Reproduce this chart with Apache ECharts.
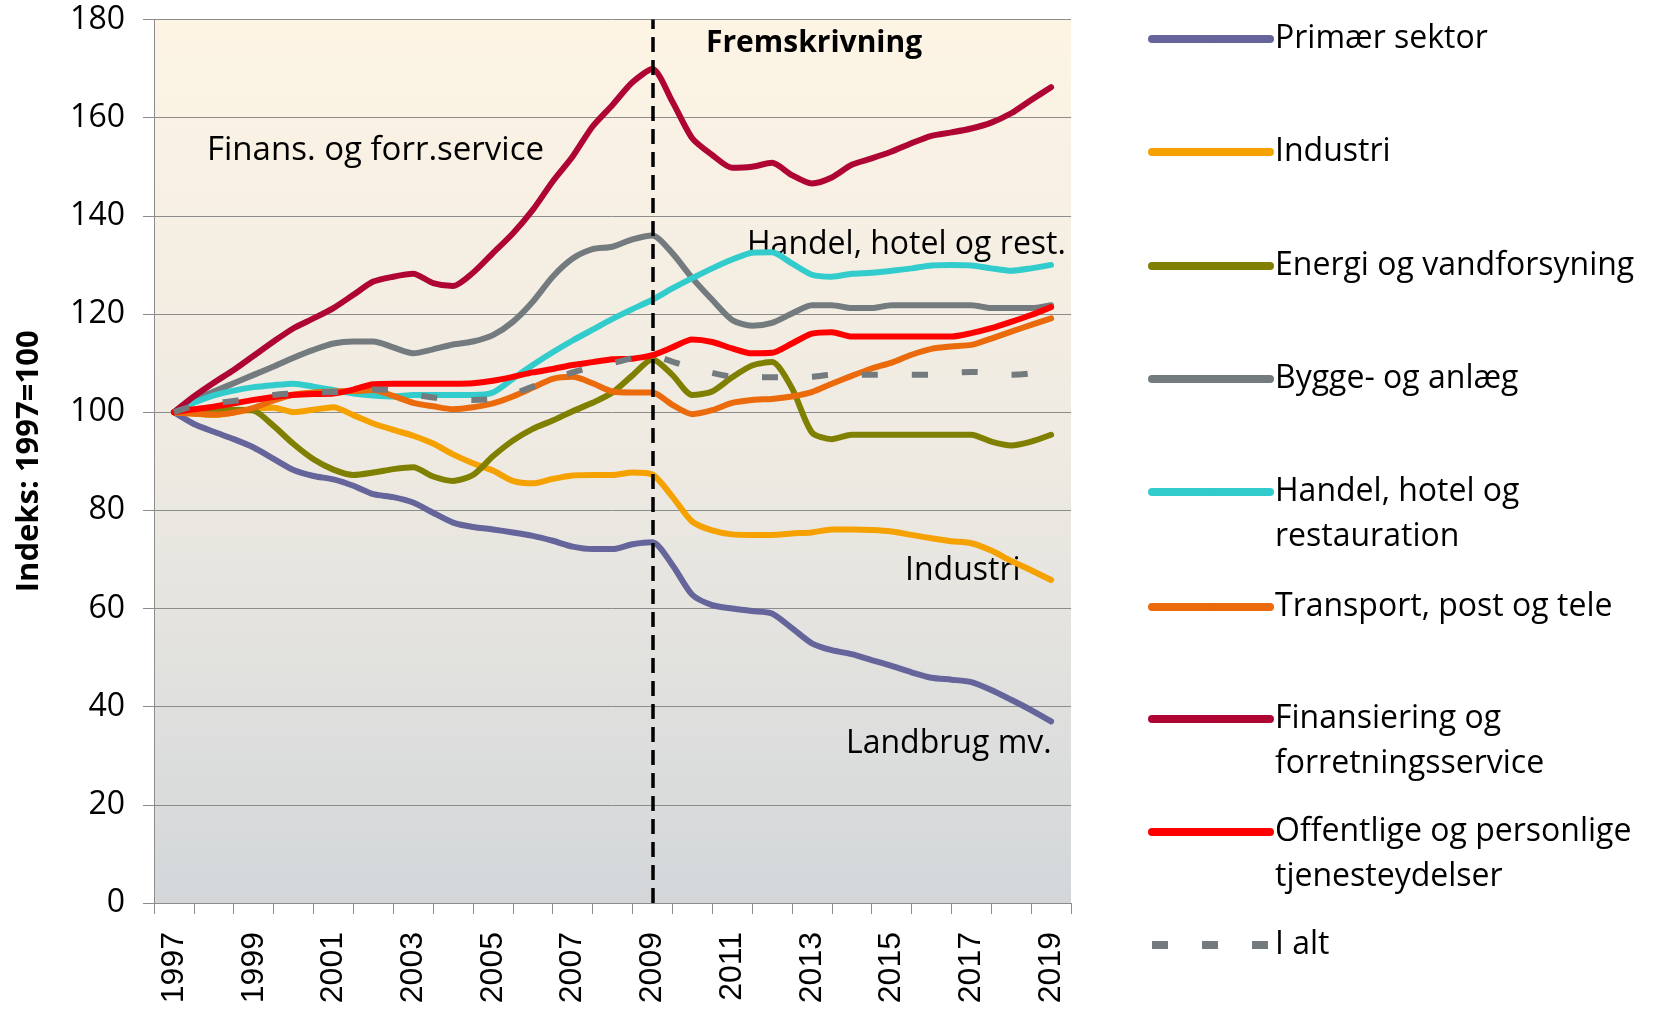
<!DOCTYPE html>
<html>
<head>
<meta charset="utf-8">
<title>Indeks: 1997=100</title>
<script src="https://cdn.jsdelivr.net/npm/echarts@6/dist/echarts.min.js"></script>
<style>
    html, body { margin: 0; padding: 0; background: #fff; }
    #chart { width: 1654px; height: 1013px; }
</style>
</head>
<body>
<div id="chart"></div>
<script>
// aarstal paa x-aksen (kategorier)
var aarstal = ['1997','1998','1999','2000','2001','2002','2003','2004','2005','2006','2007','2008',
               '2009','2010','2011','2012','2013','2014','2015','2016','2017','2018','2019'];

// halvaarlige maalepunkter 1997 - 2019
var tider = [];
for (var i = 0; i < 45; i++) { tider.push(1997 + i / 2); }

// indeks 1997=100, et tal pr. halvaar
var primaer = [100, 97.6, 96.0, 94.5, 92.8, 90.5, 88.2, 87.0, 86.3, 85.0,
               83.3, 82.7, 81.6, 79.5, 77.5, 76.6, 76.1, 75.5, 74.8, 73.8,
               72.6, 72.1, 72.1, 73.1, 73.5, 68.9, 62.8, 60.7, 60.0, 59.5,
               59.0, 56.0, 52.9, 51.5, 50.7, 49.5, 48.3, 47.0, 45.9, 45.5,
               45.0, 43.4, 41.4, 39.3, 37.0];
var industri = [100, 99.7, 99.4, 99.9, 100.6, 100.9, 100.0, 100.5, 101.0, 99.4,
                97.7, 96.4, 95.2, 93.6, 91.4, 89.6, 88.1, 86.0, 85.5, 86.4,
                87.1, 87.2, 87.2, 87.7, 87.3, 82.8, 77.7, 75.9, 75.1, 75.0,
                75.0, 75.3, 75.5, 76.1, 76.1, 76.0, 75.7, 75.0, 74.3, 73.7,
                73.3, 71.8, 69.7, 67.8, 65.8];
var energi = [100, 100.1, 100.3, 100.5, 100.3, 97.2, 93.5, 90.4, 88.3, 87.2,
              87.7, 88.4, 88.8, 86.9, 86.0, 87.2, 91.0, 94.2, 96.6, 98.3,
              100.2, 101.9, 104.0, 107.5, 110.8, 107.6, 103.5, 104.2, 107.1, 109.5,
              110.2, 104.9, 95.9, 94.5, 95.4, 95.4, 95.4, 95.4, 95.4, 95.4,
              95.4, 94.0, 93.2, 94.0, 95.4];
var bygge = [100, 102.5, 104.2, 105.9, 107.6, 109.3, 111.1, 112.7, 114.0, 114.4,
             114.4, 113.2, 112.0, 112.8, 113.8, 114.4, 115.7, 118.4, 122.5, 127.6,
             131.3, 133.2, 133.7, 135.2, 136.0, 132.4, 127.3, 122.9, 118.8, 117.6,
             118.2, 120.1, 121.8, 121.8, 121.2, 121.2, 121.8, 121.8, 121.8, 121.8,
             121.8, 121.2, 121.2, 121.2, 121.8];
var handel = [100, 101.9, 103.4, 104.4, 105.1, 105.5, 105.8, 105.2, 104.5, 103.8,
              103.4, 103.2, 103.5, 103.5, 103.5, 103.5, 104.0, 106.8, 109.6, 112.2,
              114.6, 116.8, 119.0, 121.0, 122.9, 125.2, 127.3, 129.3, 131.1, 132.5,
              132.6, 130.3, 128.0, 127.6, 128.2, 128.4, 128.8, 129.3, 129.9, 130.0,
              129.9, 129.3, 128.8, 129.3, 130.0];
var transport = [100, 99.7, 99.5, 99.9, 100.9, 102.4, 103.6, 104.0, 104.2, 104.3,
                 104.5, 103.3, 101.9, 101.2, 100.6, 101.0, 101.8, 103.2, 105.0, 106.8,
                 107.2, 105.9, 104.2, 104.0, 104.0, 101.5, 99.6, 100.4, 101.9, 102.5,
                 102.7, 103.2, 104.1, 105.8, 107.4, 108.9, 110.1, 111.7, 112.9, 113.4,
                 113.7, 115.0, 116.4, 117.8, 119.1];
var finans = [100, 103.2, 106.0, 108.6, 111.5, 114.4, 117.1, 119.1, 121.2, 123.9,
              126.6, 127.6, 128.2, 126.3, 125.7, 128.4, 132.4, 136.4, 141.2, 147.0,
              152.1, 158.2, 162.6, 167.2, 169.9, 163.3, 155.8, 152.4, 149.8, 150.0,
              150.8, 148.3, 146.6, 147.8, 150.4, 151.7, 153.1, 154.8, 156.3, 157.0,
              157.8, 159.0, 160.9, 163.6, 166.2];
var offentlige = [100, 100.6, 101.1, 101.8, 102.5, 103.1, 103.5, 103.7, 103.8, 104.6,
                  105.7, 105.8, 105.8, 105.8, 105.8, 105.9, 106.4, 107.2, 108.1, 108.8,
                  109.6, 110.2, 110.8, 110.9, 111.6, 113.2, 114.8, 114.3, 113.0, 112.0,
                  112.1, 114.0, 116.0, 116.3, 115.4, 115.4, 115.4, 115.4, 115.4, 115.4,
                  116.1, 117.1, 118.4, 119.8, 121.4];
var iAlt = [100, 101.3, 101.8, 102.3, 102.8, 103.5, 103.8, 104.0, 104.1, 104.2,
            104.6, 104.5, 103.6, 103.0, 102.7, 102.5, 102.7, 103.7, 105.2, 106.6,
            108.1, 109.2, 110.0, 111.0, 111.5, 110.3, 109.0, 108.0, 107.2, 107.1,
            107.1, 107.1, 107.2, 107.6, 107.6, 107.6, 107.6, 107.6, 107.6, 108.0,
            108.2, 108.0, 107.6, 107.9, 108.9];

// skillelinje mellem historik og fremskrivning
var fremskrivningFra = 2009;

var serier = [
    { navn: 'Primær sektor', tekst: 'Primær sektor', data: primaer, farve: '#65659B' },
    { navn: 'Industri', tekst: 'Industri', data: industri, farve: '#F5A100' },
    { navn: 'Energi og vandforsyning', tekst: 'Energi og vandforsyning', data: energi, farve: '#808000' },
    { navn: 'Bygge- og anlæg', tekst: 'Bygge- og anlæg', data: bygge, farve: '#737B7F' },
    { navn: 'Handel, hotel og restauration', tekst: ' \nHandel, hotel og\nrestauration', data: handel, farve: '#33CCCC' },
    { navn: 'Transport, post og tele', tekst: 'Transport, post og tele', data: transport, farve: '#EA6A0C' },
    { navn: 'Finansiering og forretningsservice', tekst: ' \nFinansiering og\nforretningsservice', data: finans, farve: '#AE0535' },
    { navn: 'Offentlige og personlige tjenesteydelser', tekst: ' \nOffentlige og personlige\ntjenesteydelser', data: offentlige, farve: '#FF0000' },
    { navn: 'I alt', tekst: 'I alt', data: iAlt, farve: '#737B7F', stiplet: true }
];

// legendens linjer (midten af hver ikon)
var legendeY = [39, 152, 266, 379, 492, 607, 719, 832, 945];

var chart = echarts.init(document.getElementById('chart'));

var option = {
    animation: false,
    backgroundColor: '#ffffff',
    grid: {
        left: 154, right: 583, top: 19.5, bottom: 110,
        show: true, borderWidth: 0,
        backgroundColor: new echarts.graphic.LinearGradient(0, 0, 0, 1, [
            { offset: 0, color: '#FDF4E4' },
            { offset: 0.5, color: '#EEEAE2' },
            { offset: 1, color: '#D3D7DA' }
        ])
    },
    xAxis: [
        {
            type: 'category',
            data: aarstal,
            boundaryGap: true,
            axisLine: { lineStyle: { color: '#8C8C8C', width: 1 } },
            axisTick: { show: true, interval: 0, length: 11, lineStyle: { color: '#8C8C8C' } },
            axisLabel: {
                interval: 1, rotate: 90, margin: 29,
                fontFamily: 'Liberation Sans', fontSize: 32, color: '#000'
            },
            splitLine: { show: false }
        },
        {
            // skjult tal-akse til de halvaarlige punkter
            type: 'value', min: 1996.5, max: 2019.5, show: false
        }
    ],
    yAxis: {
        type: 'value', min: 0, max: 180, interval: 20,
        name: 'Indeks: 1997=100',
        nameLocation: 'middle', nameRotate: 90, nameGap: 109,
        nameTextStyle: { fontFamily: 'Open Sans', fontWeight: 'bold', fontSize: 31, color: '#000' },
        axisLine: { show: true, lineStyle: { color: '#8C8C8C', width: 1 } },
        axisTick: { show: true, length: 11, lineStyle: { color: '#8C8C8C' } },
        axisLabel: { margin: 29, fontFamily: 'Open Sans', fontSize: 32, color: '#000' },
        splitLine: { lineStyle: { color: '#8C8C8C', width: 1 } }
    },
    legend: serier.map(function (s, i) {
        var linjer = s.tekst.split('\n').length;
        return {
            data: [s.navn],
            orient: 'vertical',
            left: 1148,
            top: legendeY[i] - linjer * 22.5 - 5,
            padding: 0,
            itemWidth: 118,
            itemHeight: 8,
            selectedMode: false,
            formatter: function () { return s.tekst; },
            textStyle: {
                fontFamily: 'Open Sans', fontSize: 32, color: '#000',
                lineHeight: 45, padding: [10, 0, 0, 0]
            },
            lineStyle: { width: 8, cap: s.stiplet ? 'butt' : 'round' }
        };
    }),
    series: serier.map(function (s, i) {
        var punkter = s.data.map(function (v, j) { return [tider[j], v]; });
        var serie = {
            name: s.navn,
            type: 'line',
            xAxisIndex: 1,
            data: punkter,
            symbol: 'none',
            smooth: 0.25,
            silent: true,
            lineStyle: {
                color: s.farve, width: 6,
                type: s.stiplet ? [16, 34] : 'solid',
                cap: s.stiplet ? 'butt' : 'round'
            },
            itemStyle: { color: s.farve }
        };
        if (i === serier.length - 1) {
            serie.markLine = {
                silent: true,
                symbol: ['none', 'none'],
                label: { show: false },
                lineStyle: { color: '#000', width: 3.5, type: [15, 8] },
                data: [{ xAxis: fremskrivningFra }]
            };
        }
        return serie;
    }),
    graphic: [
        { type: 'text', style: { text: 'Fremskrivning', x: 706, y: 43, verticalAlign: 'middle', fill: '#000',
            font: 'bold 30px "Open Sans"' } },
        { type: 'text', style: { text: 'Finans. og forr.service', x: 207, y: 151, verticalAlign: 'middle', fill: '#000',
            font: '33px "Open Sans"' } },
        { type: 'text', style: { text: 'Handel, hotel og rest.', x: 747, y: 245, verticalAlign: 'middle', fill: '#000',
            font: '32px "Open Sans"' } },
        { type: 'text', style: { text: 'Industri', x: 905, y: 571, verticalAlign: 'middle', fill: '#000',
            font: '32px "Open Sans"' } },
        { type: 'text', style: { text: 'Landbrug mv.', x: 846, y: 744, verticalAlign: 'middle', fill: '#000',
            font: '32px "Open Sans"' } }
    ]
};

chart.setOption(option);
</script>
</body>
</html>
